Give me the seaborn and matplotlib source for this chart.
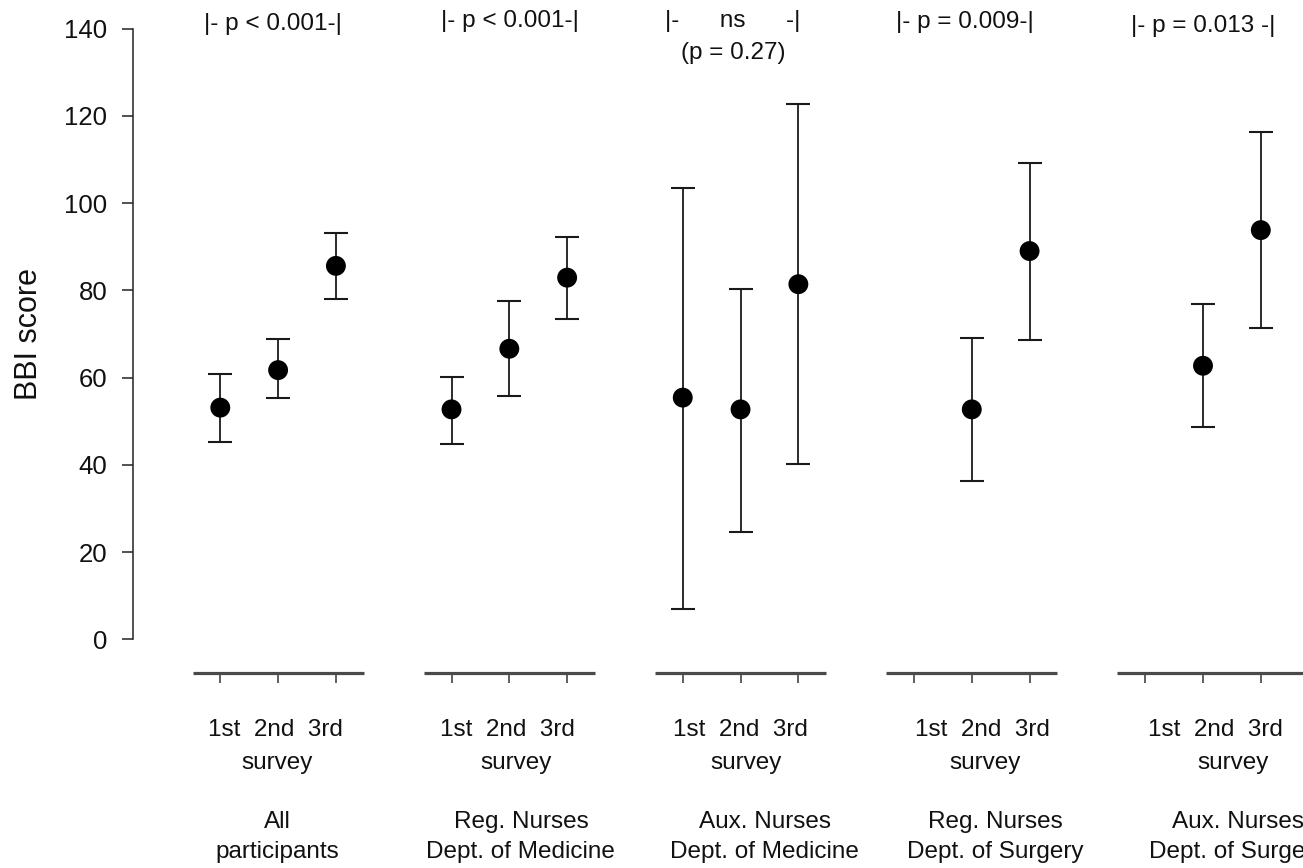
import numpy as np
import pandas as pd
import matplotlib
matplotlib.use("Agg")
import matplotlib.pyplot as plt
import seaborn as sns

# ---------------- data ----------------
groups = ["All\nparticipants",
          "Reg. Nurses\nDept. of Medicine",
          "Aux. Nurses\nDept. of Medicine",
          "Reg. Nurses\nDept. of Surgery",
          "Aux. Nurses\nDept. of Surgery"]
surveys = ["1st", "2nd", "3rd"]
p_labels = ["|- p < 0.001-|",
            "|- p < 0.001-|",
            "|-      ns      -|\n(p = 0.27)",
            "|- p = 0.009-|",
            "|- p = 0.013 -|"]

mean_1st = [53.1, 52.7, 55.4, np.nan, np.nan]
mean_2nd = [61.7, 66.6, 52.7, 52.7, 62.7]
mean_3rd = [85.6, 82.9, 81.4, 89.0, 93.8]
lo_1st = [45.2, 44.8, 6.9, np.nan, np.nan]
hi_1st = [60.7, 60.2, 103.5, np.nan, np.nan]
lo_2nd = [55.2, 55.7, 24.7, 36.3, 48.7]
hi_2nd = [68.8, 77.5, 80.3, 69.1, 76.8]
lo_3rd = [78.0, 73.4, 40.1, 68.6, 71.4]
hi_3rd = [93.1, 92.2, 122.6, 109.3, 116.2]

y_ticks = [0, 20, 40, 60, 80, 100, 120, 140]

# ---------------- layout (not data) ----------------
GROUP_STEP = 4
annot_dx = [0.91, 1.01, 0.87, 0.885, 1.01]
annot_y = [141.06, 141.75, 141.75, 141.52, 140.6]
survey_dx = [0.946, 0.965, 1.006, 1.18, 1.22]
survey_word_dx = [0.98, 1.11, 1.10, 1.23, 1.52]
group_dx = [0.99, 1.20, 1.42, 1.41, 1.60]

means = [mean_1st, mean_2nd, mean_3rd]
los = [lo_1st, lo_2nd, lo_3rd]
his = [hi_1st, hi_2nd, hi_3rd]
rows = []
for g, gname in enumerate(groups):
    for s, sname in enumerate(surveys):
        rows.append(dict(group=gname, survey=sname, pos=GROUP_STEP * g + s,
                         mean=means[s][g], lo=los[s][g], hi=his[s][g]))
df = pd.DataFrame(rows)
dfv = df.dropna()

sns.set_style("white")
plt.rcParams["font.family"] = ["Liberation Sans", "DejaVu Sans"]

fig = plt.figure(figsize=(13.03, 8.68), dpi=100)
ax = fig.add_axes([0.1023, 0.2247, 0.8977, 0.7524])

YBOT = -7.73
ax.set_ylim(YBOT, 142)
ax.set_xlim(-1.505, 18.73)

ax.errorbar(dfv["pos"], dfv["mean"],
            yerr=[dfv["mean"] - dfv["lo"], dfv["hi"] - dfv["mean"]],
            fmt="none", ecolor="#1a1a1a", elinewidth=1.3, capsize=8.3,
            capthick=1.5, zorder=2)
sns.scatterplot(data=dfv, x="pos", y="mean", color="black", s=205,
                edgecolor="none", legend=False, ax=ax, zorder=3)

# axes styling
for side in ["top", "right", "bottom"]:
    ax.spines[side].set_visible(False)
ax.spines["left"].set_bounds(0, 140)
ax.spines["left"].set_color("#222222")
ax.spines["left"].set_linewidth(1.1)
ax.set_yticks(y_ticks)
ax.set_yticklabels([str(t) for t in y_ticks], fontsize=18.5, color="#111111")
ax.tick_params(axis="y", direction="out", length=7.9, width=1.1,
               color="#222222", pad=10.8, left=True)
ax.set_xticks(df["pos"].tolist())
ax.set_xticklabels([""] * len(df))
ax.tick_params(axis="x", direction="out", length=7.2, width=1.1,
               color="#333333", bottom=True)
ax.set_xlabel("")
ax.set_ylabel("BBI score", fontsize=22, va="center", color="#111111")
ax.yaxis.set_label_coords(-0.0892, (70 - YBOT) / (142 - YBOT))

# per-group axis segments
xr = ax.get_xlim()[1]
for g in range(len(groups)):
    x0 = GROUP_STEP * g - 0.48
    x1 = GROUP_STEP * g + 2.48 if g < len(groups) - 1 else xr
    ax.plot([x0, x1], [YBOT, YBOT], color="#4a4a4a", lw=2.3,
            solid_capstyle="butt", clip_on=False, zorder=4)

# annotations and labels
for g in range(len(groups)):
    base = GROUP_STEP * g
    for j, line in enumerate(p_labels[g].split("\n")):
        ax.text(base + annot_dx[g], annot_y[g] - j * 7.3, line,
                ha="center", va="center", fontsize=17.5, color="#111111",
                clip_on=False)
    ax.text(base + survey_dx[g], -20.8, "  ".join(surveys), ha="center",
            va="center", fontsize=17.5, color="#111111", clip_on=False)
    ax.text(base + survey_word_dx[g], -28.4, "survey", ha="center",
            va="center", fontsize=17.5, color="#111111", clip_on=False)
    for j, line in enumerate(groups[g].split("\n")):
        ax.text(base + group_dx[g], -41.8 - j * 6.88, line, ha="center",
                va="center", fontsize=17.5, color="#111111", clip_on=False)

fig.savefig("out.png", dpi=100)
